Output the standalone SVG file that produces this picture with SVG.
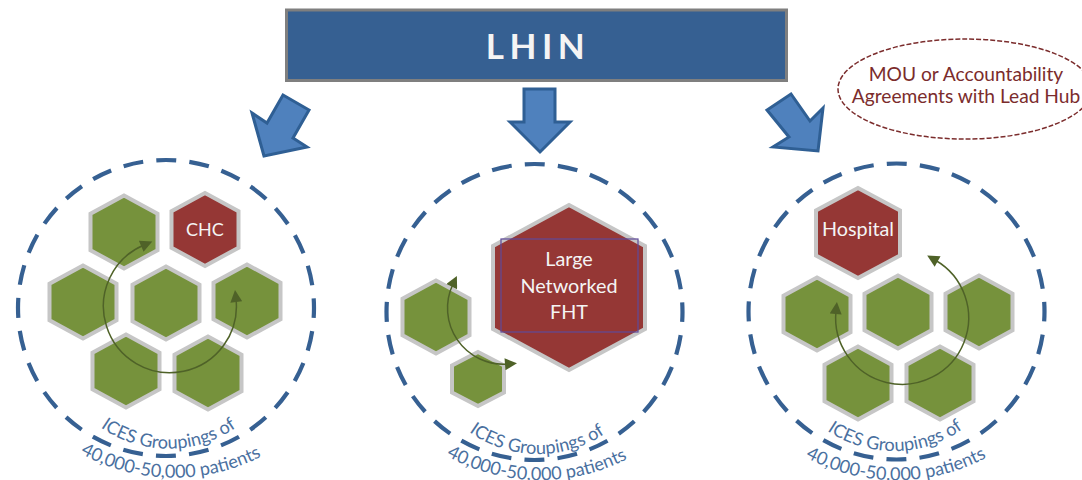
<svg xmlns="http://www.w3.org/2000/svg" xmlns:xlink="http://www.w3.org/1999/xlink" width="1082" height="480" viewBox="0 0 1082 480">
<style>
.bg{fill:#fff}
.ring{fill:none;stroke:#366092;stroke-width:4.200;stroke-dasharray:20 13.21;stroke-dashoffset:10}
.g{fill:#76923c;stroke:#c6c6c6;stroke-width:4;stroke-linejoin:miter}
.r{fill:#953735;stroke:#c6c6c6;stroke-width:4;stroke-linejoin:miter}
.block{fill:#4f81bd;stroke:#2f5f94;stroke-width:3;stroke-linejoin:miter}
.arc{fill:none;stroke:#4f6228;stroke-width:1.500;marker-start:url(#head);marker-end:url(#head)}
.t{font-family:Lato,"Liberation Sans",sans-serif;text-anchor:middle}
.w{fill:#f4f4f4;font-size:19.800px}
.cap{fill:#4a709f;font-size:18.100px}
.mou{fill:#7b2c2c;font-size:19.200px}
</style>
<defs>
<marker id="head" viewBox="0 0 12 12" refX="3" refY="6" markerWidth="13" markerHeight="12" markerUnits="userSpaceOnUse" orient="auto-start-reverse"><path d="M0 0L12 6L0 12Z" fill="#4f6228"/></marker>
<polygon id="hex" points="0,-36.5 33.5,-18.2 33.5,18.2 0,36.5 -33.5,18.2 -33.5,-18.2"/>
<path id="c1a" d="M100 427A119 119 0 0 0 237 427"/>
<path id="c1b" d="M78 452A191 191 0 0 0 264 455"/>
<path id="c2a" d="M468 431A119 119 0 0 0 606 433"/>
<path id="c2b" d="M445 455A191 191 0 0 0 629 458"/>
<path id="c3a" d="M826 430A119 119 0 0 0 964 428"/>
<path id="c3b" d="M803 456A191 191 0 0 0 989 456"/>
</defs>
<rect class="bg" width="1082" height="480"/>

<g id="lhin">
<rect x="286.500" y="10" width="500" height="70.500" fill="#366092" stroke="#7f7f7f" stroke-width="3"/>
<text class="t" x="538" y="59" fill="#f4f4f4" font-size="35" font-weight="700" letter-spacing="5.500">LHIN</text>
</g>

<g id="mou">
<ellipse cx="965" cy="89" rx="127" ry="50" fill="none" stroke="#7b2c2c" stroke-width="1.500" stroke-dasharray="5 2"/>
<text class="t mou" x="966" y="81">MOU or Accountability</text>
<text class="t mou" x="966" y="103">Agreements with Lead Hub</text>
</g>

<g id="group-left">
<circle class="ring" cx="166" cy="308" r="148"/>
<g id="left-hex-1"><use xlink:href="#hex" class="g" transform="translate(124 232)"/></g>
<g id="left-chc"><use xlink:href="#hex" class="r" transform="translate(205 229.500)"/><text class="t w" x="205" y="236" style="font-size:18px">CHC</text></g>
<g id="left-hex-2"><use xlink:href="#hex" class="g" transform="translate(83 302)"/></g>
<g id="left-hex-3"><use xlink:href="#hex" class="g" transform="translate(166 303)"/></g>
<g id="left-hex-4"><use xlink:href="#hex" class="g" transform="translate(247 301)"/></g>
<g id="left-hex-5"><use xlink:href="#hex" class="g" transform="translate(126 371)"/></g>
<g id="left-hex-6"><use xlink:href="#hex" class="g" transform="translate(208 373)"/></g>
<text class="t cap"><textPath xlink:href="#c1a" startOffset="50%">ICES Groupings of</textPath></text>
<text class="t cap"><textPath xlink:href="#c1b" startOffset="50%">40,000-50,000 patients</textPath></text>
</g>

<g id="group-middle">
<circle class="ring" cx="534.500" cy="312" r="148"/>
<g id="mid-fht">
<polygon class="r" points="569,205 645,246 645,329 569,370 493,329 493,246"/>
<rect x="501" y="239" width="137" height="93" fill="none" stroke="#5f4a9a" stroke-width="1.200"/>
<text class="t w" x="569" y="266">Large</text>
<text class="t w" x="569" y="293">Networked</text>
<text class="t w" x="569" y="319">FHT</text>
</g>
<g id="mid-hex-1"><use xlink:href="#hex" class="g" transform="translate(436 317)"/></g>
<g id="mid-hex-2"><polygon class="g" points="478,352 504,365.500 504,392.500 478,406 452,392.500 452,365.500"/></g>
<text class="t cap"><textPath xlink:href="#c2a" startOffset="50%">ICES Groupings of</textPath></text>
<text class="t cap"><textPath xlink:href="#c2b" startOffset="50%">40,000-50,000 patients</textPath></text>
</g>

<g id="group-right">
<circle class="ring" cx="896.500" cy="311.500" r="148"/>
<g id="right-hospital"><polygon class="r" points="858,188 900,210.500 900,255.500 858,278 816,255.500 816,210.500"/><text class="t w" x="858" y="236">Hospital</text></g>
<g id="right-hex-1"><use xlink:href="#hex" class="g" transform="translate(817 314)"/></g>
<g id="right-hex-2"><use xlink:href="#hex" class="g" transform="translate(898 312)"/></g>
<g id="right-hex-3"><use xlink:href="#hex" class="g" transform="translate(979 312)"/></g>
<g id="right-hex-4"><use xlink:href="#hex" class="g" transform="translate(858 383)"/></g>
<g id="right-hex-5"><use xlink:href="#hex" class="g" transform="translate(940 383)"/></g>
<text class="t cap"><textPath xlink:href="#c3a" startOffset="50%">ICES Groupings of</textPath></text>
<text class="t cap"><textPath xlink:href="#c3b" startOffset="50%">40,000-50,000 patients</textPath></text>
</g>

<g id="connectors">
<polygon class="block" points="264,156 252,113 267,123 283,95 309,110 293,138 307,147"/>
<polygon class="block" points="524,89 555,89 555,122 570,122 540,152 510,122 524,122"/>
<polygon class="block" points="818,151 823,108 810,121 791,94 767,110 789,137 773,147"/>
<path class="arc" d="M236 299A66.500 66.500 0 1 1 144 245"/>
<path class="arc" d="M453 284A56 56 0 0 0 508 364"/>
<path class="arc" d="M836 311A66.500 66.500 0 1 0 935 260"/>
</g>
</svg>
